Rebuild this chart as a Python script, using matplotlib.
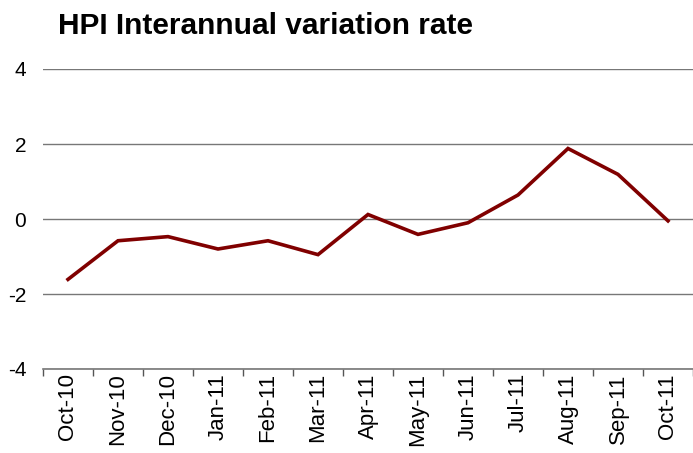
import matplotlib
matplotlib.use("Agg")
import matplotlib.pyplot as plt

months = ["Oct-10", "Nov-10", "Dec-10", "Jan-11", "Feb-11", "Mar-11", "Apr-11",
          "May-11", "Jun-11", "Jul-11", "Aug-11", "Sep-11", "Oct-11"]
hpi_rate = [-1.61, -0.58, -0.47, -0.80, -0.58, -0.95, 0.12,
            -0.41, -0.10, 0.64, 1.88, 1.19, -0.05]
yticks = [-4, -2, 0, 2, 4]

plt.rcParams["font.family"] = ["Liberation Sans", "DejaVu Sans"]

fig = plt.figure(figsize=(6.93, 4.53), dpi=100)
ax = fig.add_axes([43 / 693, 1 - 369 / 453, 650 / 693, 300 / 453])

x = range(len(months))
ax.plot(x, hpi_rate, color="#800000", lw=2.6, solid_joinstyle="miter")

ax.set_xlim(-0.5, len(months) - 0.5)
ax.set_ylim(-4, 4)
ax.set_yticks(yticks)
ax.set_yticklabels([str(v) for v in yticks], fontsize=15)
# category boundaries get the tick marks, labels sit in the middle
ax.set_xticks([i - 0.5 for i in range(len(months) + 1)])
ax.set_xticklabels([])
ax.set_xticks(list(x), minor=True)
ax.set_xticklabels(months, minor=True, rotation=90, fontsize=16)
ax.tick_params(axis="x", which="minor", length=0, pad=3)
ax.tick_params(axis="x", which="major", length=5, width=1, color="#555555", direction="out")
ax.tick_params(axis="y", length=0, pad=12)

ax.grid(axis="y", color="#777777", lw=1)
ax.set_axisbelow(True)
for s in ["left", "right", "top"]:
    ax.spines[s].set_visible(False)
ax.spines["bottom"].set_color("#777777")
ax.spines["bottom"].set_linewidth(1.2)

fig.text(58 / 693, 1 - 34 / 453, "HPI Interannual variation rate",
         fontsize=21.5, fontweight="bold", ha="left", va="baseline")

fig.savefig("out.png", dpi=100)
